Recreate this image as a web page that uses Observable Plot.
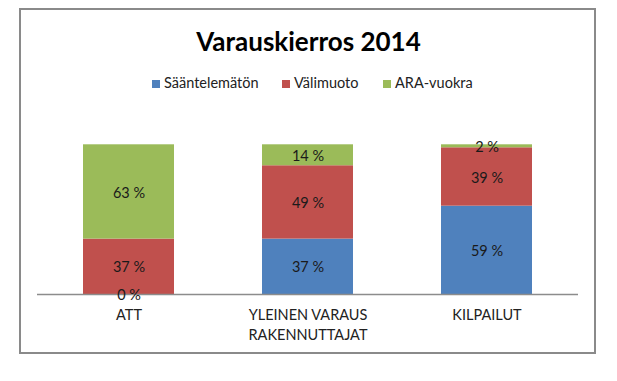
<!DOCTYPE html>
<html>
<head>
<meta charset="utf-8">
<script src="https://cdn.jsdelivr.net/npm/d3@7"></script>
<script src="https://cdn.jsdelivr.net/npm/@observablehq/plot@0.6"></script>
<style>
  html, body { margin: 0; padding: 0; background: #fff; }
  #wrap { position: relative; width: 617px; height: 381px; overflow: hidden; font-family: Lato, "Open Sans", sans-serif; }
  #frame { position: absolute; left: 19px; top: 8px; width: 577px; height: 346px; box-sizing: border-box; border: 2px solid #8a8a8a; }
  #title { position: absolute; left: 0; width: 617px; top: 26px; text-align: center; font-weight: 700; font-size: 26px; color: #000; line-height: 30px; }
  .leg { position: absolute; top: 75px; font-size: 14.5px; color: #222; line-height: 16px; white-space: nowrap; }
  .sw { display: inline-block; width: 8px; height: 8px; margin-right: 4px; vertical-align: 0px; }
  #chart { position: absolute; left: 0; top: 0; }
</style>
</head>
<body>
<div id="wrap">
  <div id="frame"></div>
  <div id="title">Varauskierros 2014</div>
  <div id="legend"></div>
  <div id="chart"></div>
</div>
<script>
const categories = ["ATT", "YLEINEN VARAUS\nRAKENNUTTAJAT", "KILPAILUT"];
const seriesNames = ["Sääntelemätön", "Välimuoto", "ARA-vuokra"];
const seriesColors = ["#4F81BD", "#C0504D", "#9BBB59"];
const saantelematon = [0, 37, 59];
const valimuoto = [37, 49, 39];
const araVuokra = [63, 14, 2];
const legendX = [152, 282, 383];

const seriesValues = [saantelematon, valimuoto, araVuokra];
const data = [];
seriesNames.forEach((s, si) => {
  categories.forEach((c, ci) => {
    data.push({category: c, series: s, value: seriesValues[si][ci]});
  });
});

// legend
const legend = document.getElementById("legend");
seriesNames.forEach((s, i) => {
  const item = document.createElement("div");
  item.className = "leg";
  item.style.left = legendX[i] + "px";
  item.innerHTML = `<span class="sw" style="background:${seriesColors[i]}"></span>${s}`;
  legend.appendChild(item);
});

const chart = Plot.plot({
  width: 617,
  height: 381,
  marginTop: 144,
  marginBottom: 87,
  marginLeft: 37,
  marginRight: 39,
  style: {fontFamily: "Lato, 'Open Sans', sans-serif", background: "transparent", overflow: "visible"},
  x: {domain: categories, range: [37, 578], paddingInner: 0.49, paddingOuter: 0.25, label: null},
  y: {domain: [0, 100], range: [294, 144.3], axis: null},
  color: {domain: seriesNames, range: seriesColors},
  marks: [
    Plot.barY(data, Plot.stackY({x: "category", y: "value", fill: "series", order: seriesNames})),
    Plot.ruleY([0], {stroke: "#8c8c8c", strokeWidth: 1.5}),
    Plot.text(data, Plot.stackY({x: "category", y: "value", z: "series", order: seriesNames,
      text: d => d.value + " %", fill: "#1a1a1a", fontSize: 14.5, dy: 1})),
    Plot.axisX({tickSize: 0, tickPadding: 12, fontSize: 14.5, fill: "#222", lineHeight: 1.35, label: null})
  ]
});
document.getElementById("chart").appendChild(chart);
</script>
</body>
</html>
